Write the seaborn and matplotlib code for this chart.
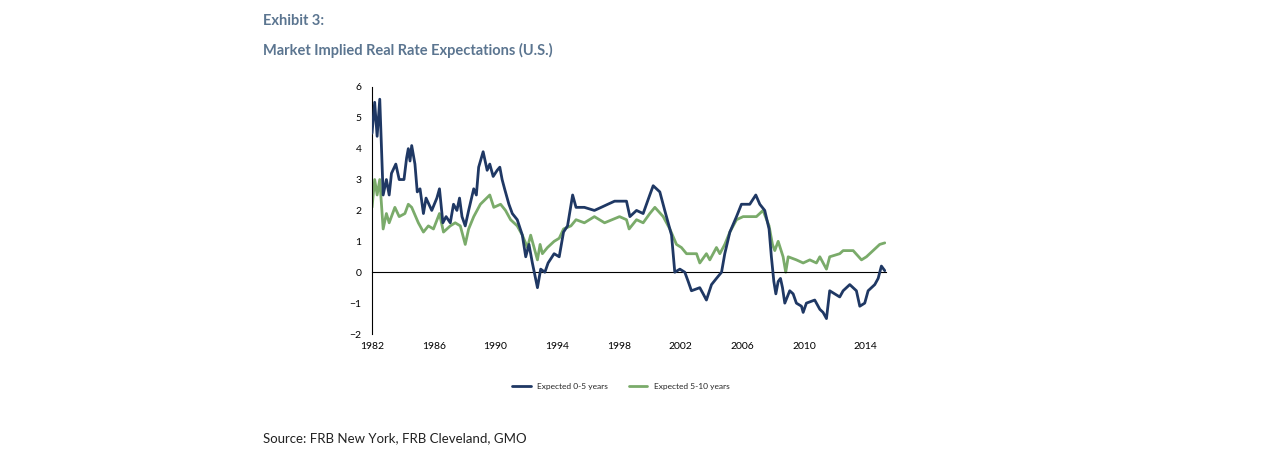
import matplotlib
matplotlib.use("Agg")
import matplotlib.pyplot as plt
import seaborn as sns
import pandas as pd

sns.set_style("white")
plt.rcParams['font.family'] = ['Lato', 'DejaVu Sans']

blue_years = [1982.00,1982.17,1982.33,1982.50,1982.72,1982.93,1983.11,1983.26,1983.54,1983.76,1984.07,1984.24,1984.35,1984.46,1984.57,1984.78,1984.93,1985.11,1985.33,1985.50,1985.87,1986.20,1986.37,1986.59,1986.80,1987.07,1987.28,1987.50,1987.67,1987.83,1988.04,1988.26,1988.59,1988.76,1988.91,1989.20,1989.46,1989.63,1989.85,1990.11,1990.28,1990.43,1990.59,1990.87,1991.09,1991.41,1991.74,1991.96,1992.17,1992.39,1992.72,1992.93,1993.20,1993.41,1993.80,1994.13,1994.41,1994.67,1995.00,1995.22,1995.76,1996.41,1996.85,1997.28,1997.72,1998.04,
              1998.49,1998.71,1999.14,1999.57,2000.00,2000.22,2000.65,2000.97,2001.41,2001.62,2001.95,2002.27,2002.49,2002.70,2003.24,2003.46,2003.67,2004.00,2004.32,2004.65,2004.86,2005.19,2005.62,2005.94,2006.48,2006.87,2007.13,2007.45,2007.73,2007.88,2008.04,2008.17,2008.32,2008.47,2008.60,2008.75,2009.07,2009.29,2009.50,2009.83,2009.94,2010.15,2010.69,2011.02,2011.23,2011.45,2011.66,2012.31,2012.53,2012.96,2013.39,2013.61,2013.93,2014.15,2014.58,2014.80,2015.01,2015.23]
blue_vals = [4.5,5.5,4.4,5.6,2.5,3.0,2.5,3.2,3.5,3.0,3.0,3.7,4.0,3.6,4.1,3.5,2.6,2.7,1.9,2.4,2.0,2.4,2.7,1.6,1.8,1.6,2.2,2.0,2.4,1.8,1.5,2.0,2.7,2.5,3.4,3.9,3.3,3.5,3.1,3.3,3.4,3.0,2.7,2.2,1.9,1.7,1.2,0.5,0.9,0.3,-0.5,0.1,0.0,0.3,0.6,0.5,1.3,1.5,2.5,2.1,2.1,2.0,2.1,2.2,2.3,2.3,
             2.3,1.8,2.0,1.9,2.5,2.8,2.6,2.0,1.2,0.0,0.1,0.0,-0.3,-0.6,-0.5,-0.7,-0.9,-0.4,-0.2,0.0,0.6,1.3,1.8,2.2,2.2,2.5,2.2,2.0,1.4,0.5,-0.3,-0.7,-0.3,-0.2,-0.5,-1.0,-0.6,-0.7,-1.0,-1.1,-1.3,-1.0,-0.9,-1.2,-1.3,-1.5,-0.6,-0.8,-0.6,-0.4,-0.6,-1.1,-1.0,-0.6,-0.4,-0.2,0.2,0.05]

green_years = [1982.00,1982.17,1982.33,1982.50,1982.72,1982.93,1983.11,1983.48,1983.76,1984.13,1984.35,1984.57,1985.00,1985.33,1985.65,1985.98,1986.37,1986.63,1987.07,1987.39,1987.72,1988.04,1988.26,1988.59,1989.02,1989.63,1989.89,1990.33,1990.65,1990.98,1991.41,1991.74,1992.07,1992.28,1992.72,1992.89,1993.04,1993.37,1993.80,1994.13,1994.41,1994.89,1995.22,1995.76,1996.41,1997.07,1998.04,
               1998.49,1998.66,1999.14,1999.57,2000.00,2000.33,2000.87,2001.30,2001.73,2002.05,2002.38,2003.03,2003.24,2003.67,2003.89,2004.32,2004.54,2004.86,2005.19,2005.62,2006.05,2006.91,2007.34,2007.73,2007.95,2008.10,2008.32,2008.64,2008.81,2008.97,2009.50,2009.94,2010.37,2010.80,2011.02,2011.45,2011.66,2012.31,2012.53,2013.18,2013.72,2014.04,2014.47,2014.90,2015.23]
green_vals = [2.1,3.0,2.5,3.0,1.4,1.9,1.6,2.1,1.8,1.9,2.2,2.1,1.6,1.3,1.5,1.4,1.9,1.3,1.5,1.6,1.5,0.9,1.4,1.8,2.2,2.5,2.1,2.2,2.0,1.7,1.5,1.2,0.8,1.2,0.4,0.9,0.6,0.8,1.0,1.1,1.4,1.5,1.7,1.6,1.8,1.6,1.8,
              1.7,1.4,1.7,1.6,1.9,2.1,1.8,1.4,0.9,0.8,0.6,0.6,0.3,0.6,0.4,0.8,0.6,0.9,1.3,1.7,1.8,1.8,2.0,1.5,0.9,0.7,1.0,0.5,0.0,0.5,0.4,0.3,0.4,0.3,0.5,0.1,0.5,0.6,0.7,0.7,0.4,0.5,0.7,0.9,0.95]

x_ticks = [1982,1986,1990,1994,1998,2002,2006,2010,2014]
y_ticks = [-2,-1,0,1,2,3,4,5,6]
series_names = ["Expected 0-5 years", "Expected 5-10 years"]

df = pd.concat([
    pd.DataFrame({"year": blue_years, "value": blue_vals, "series": series_names[0]}),
    pd.DataFrame({"year": green_years, "value": green_vals, "series": series_names[1]}),
])

fig = plt.figure(figsize=(12.75, 4.62), dpi=100)
ax = fig.add_axes([0.2918, 0.277, 0.403, 0.535])
sns.lineplot(data=df, x="year", y="value", hue="series", hue_order=series_names[::-1],
             palette={series_names[0]: "#1f3864", series_names[1]: "#7aab6a"},
             linewidth=2.0, ax=ax, legend=False, sort=True)
# draw blue on top
for l in ax.lines:
    if l.get_color() == "#1f3864":
        l.set_zorder(3)

ax.set_xlim(1982, 2015.3)
ax.set_ylim(-2, 6)
ax.set_xticks(x_ticks)
ax.set_yticks(y_ticks)
ax.set_xlabel("")
ax.set_ylabel("")
for s in ["top", "right"]:
    ax.spines[s].set_visible(False)
ax.spines["bottom"].set_position(("data", 0))
ax.spines["left"].set_color("black")
ax.spines["bottom"].set_color("black")
ax.spines["left"].set_linewidth(0.8)
ax.spines["bottom"].set_linewidth(0.8)
ax.tick_params(axis="both", direction="out", length=4, width=0.8, colors="black", labelsize=7.5)
ax.tick_params(axis="x", pad=46)

from matplotlib.lines import Line2D
handles = [Line2D([], [], color="#1f3864", lw=2), Line2D([], [], color="#7aab6a", lw=2)]
fig.legend(handles, series_names, loc="center", bbox_to_anchor=(0.487, 0.164), ncol=2,
           frameon=False, fontsize=6, handlelength=2.2, columnspacing=2.5)

fig.text(0.206, 0.955, "Exhibit 3:", fontsize=10.5, fontweight="bold", color="#5b7590", va="center")
fig.text(0.206, 0.890, "Market Implied Real Rate Expectations (U.S.)", fontsize=10.5, fontweight="bold", color="#5b7590", va="center")
fig.text(0.206, 0.052, "Source: FRB New York, FRB Cleveland, GMO", fontsize=9.5, color="#222222", va="center")

fig.savefig("out.png", dpi=100)
